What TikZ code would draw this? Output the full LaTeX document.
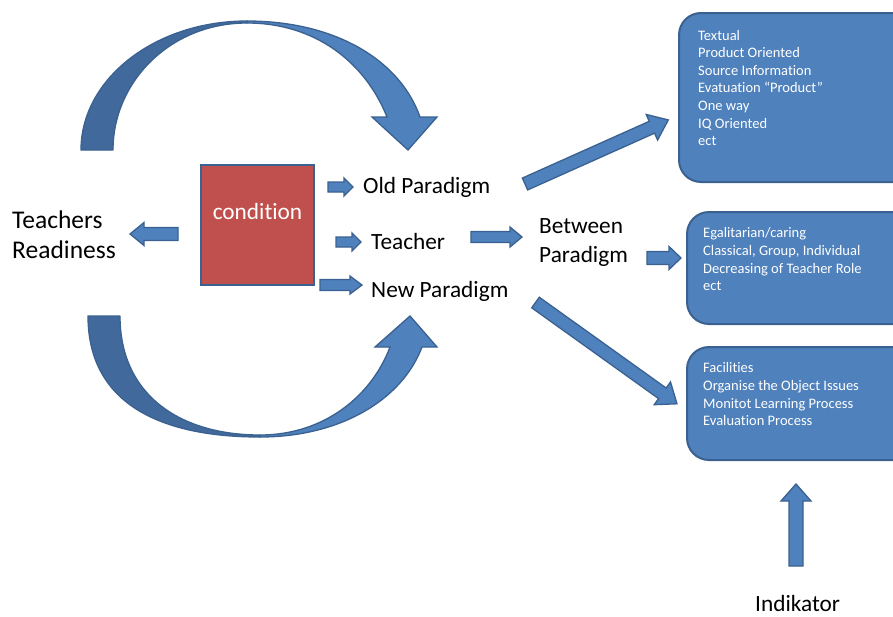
\documentclass[tikz,border=0pt]{standalone}
\usepackage{fontspec}
\setmainfont[Ligatures=NoCommon]{Carlito}
\definecolor{ablue}{HTML}{4F81BD}
\definecolor{adark}{HTML}{41699B}
\definecolor{aedge}{HTML}{3A6190}
\definecolor{cred}{HTML}{C0504D}
\tikzset{
  barr/.style={fill=ablue, draw=aedge, line width=1.3pt, line join=miter},
  rbox/.style={rectangle, rounded corners=22pt, fill=ablue, draw=aedge, line width=2pt, inner sep=0pt},
  condbox/.style={rectangle, fill=cred, draw=aedge, line width=2pt, inner sep=0pt},
  boxtxt/.style={text=white, font=\fontsize{14.5}{17.7}\selectfont, inner sep=0pt, anchor=base west},
  lbl/.style={text=black, font=\fontsize{23.3}{29}\selectfont, inner sep=0pt, anchor=base west},
  biglbl/.style={lbl, font=\fontsize{25.5}{30}\selectfont},
}
\newcommand{\blockarrow}[6]{% tail, angle, length, shaft half, head half, head length
  \begin{scope}[shift={#1}, rotate=#2]
    \draw[barr] (0,#4) -- ({#3-#6},#4) -- ({#3-#6},#5) -- (#3,0) -- ({#3-#6},-#5) -- ({#3-#6},-#4) -- (0,-#4) -- cycle;
  \end{scope}}
\begin{document}
\begin{tikzpicture}[x=1pt,y=-1pt]
\useasboundingbox (0,0) rectangle (893,616);
\fill[white] (0,0) rectangle (893,616);
\clip (0,0) rectangle (893,616);

% right boxes
\node[rbox, minimum width=240pt, minimum height=169pt] (box1) at (799,97.5) {};
\node[rbox, minimum width=232pt, minimum height=112pt] (box2) at (803,268) {};
\node[rbox, minimum width=232pt, minimum height=113pt] (box3) at (803,403.5) {};

\foreach \t [count=\i] in {Textual, Product Oriented, Source Information, Evatuation “Product”, One way, IQ Oriented, ect}
  \node[boxtxt] (ta-\i) at (698,{40+17.65*(\i-1)}) {\t};
\foreach \t [count=\i] in {Egalitarian/caring, {Classical, Group, Individual}, Decreasing of Teacher Role, ect}
  \node[boxtxt] (tb-\i) at (703,{237.7+17.65*(\i-1)}) {\t};
\foreach \t [count=\i] in {Facilities, Organise the Object Issues, Monitot Learning Process, Evaluation Process}
  \node[boxtxt] (tc-\i) at (703,{372.7+17.65*(\i-1)}) {\t};

% condition box
\node[condbox, minimum width=113pt, minimum height=120pt] (cond) at (257.5,225) {};
\node[lbl, text=white, anchor=base] (condl) at (257.5,219) {condit\kern0pt ion};

% labels
\node[biglbl] (tr1) at (12,228) {Teachers};
\node[biglbl] (tr2) at (12,258) {Readiness};
\node[lbl] (old) at (363,193) {Old Paradigm};
\node[lbl] (teach) at (371,249) {Teacher};
\node[lbl] (new) at (371,297) {New Paradigm};
\node[lbl] (bw1) at (539,233) {Between};
\node[lbl] (bw2) at (539,262) {Paradigm};
\node[lbl] (ind) at (755,611) {Indikator};

% straight block arrows
\blockarrow{(178,234)}{180}{48}{6.5}{11.5}{14}
\blockarrow{(328,187)}{0}{25}{5}{9}{9}
\blockarrow{(336,242)}{0}{25}{5}{9}{9}
\blockarrow{(320,285)}{0}{42}{5.5}{9}{12}
\blockarrow{(471,237)}{0}{51}{5.5}{10}{12}
\blockarrow{(647,258)}{0}{34}{6.5}{11.5}{12}
\blockarrow{(796,566)}{90}{82}{7}{15}{17}
\blockarrow{(525,184)}{24.1}{157}{6.5}{14}{18}
\blockarrow{(535.5,302.5)}{-35.6}{174}{6.5}{14}{18}

% top curved arrow
\filldraw[fill=adark, draw=aedge, line width=1.3pt, line join=round]
  (81,150) .. controls (81,79) and (155,21) .. (247,21) -- (247,23)
  .. controls (170,23) and (113,82) .. (113,150) -- cycle;
\filldraw[fill=ablue, draw=aedge, line width=1.3pt, line join=miter]
  (247,21) .. controls (335,21) and (400,60) .. (420,117) -- (437,117) -- (408,150) -- (372,117) -- (387,117)
  .. controls (365,62) and (315,23) .. (247,23) -- cycle;

% bottom curved arrow
\filldraw[fill=adark, draw=aedge, line width=1.3pt, line join=round]
  (88,316) .. controls (88,400) and (155,437) .. (260,437) -- (260,435)
  .. controls (180,435) and (120,395) .. (120,316) -- cycle;
\filldraw[fill=ablue, draw=aedge, line width=1.3pt, line join=miter]
  (260,437) .. controls (340,437) and (402,400) .. (422,347) -- (437,347) -- (410,316) -- (375,347) -- (390,347)
  .. controls (372,395) and (325,435) .. (260,435) -- cycle;
\end{tikzpicture}
\end{document}
